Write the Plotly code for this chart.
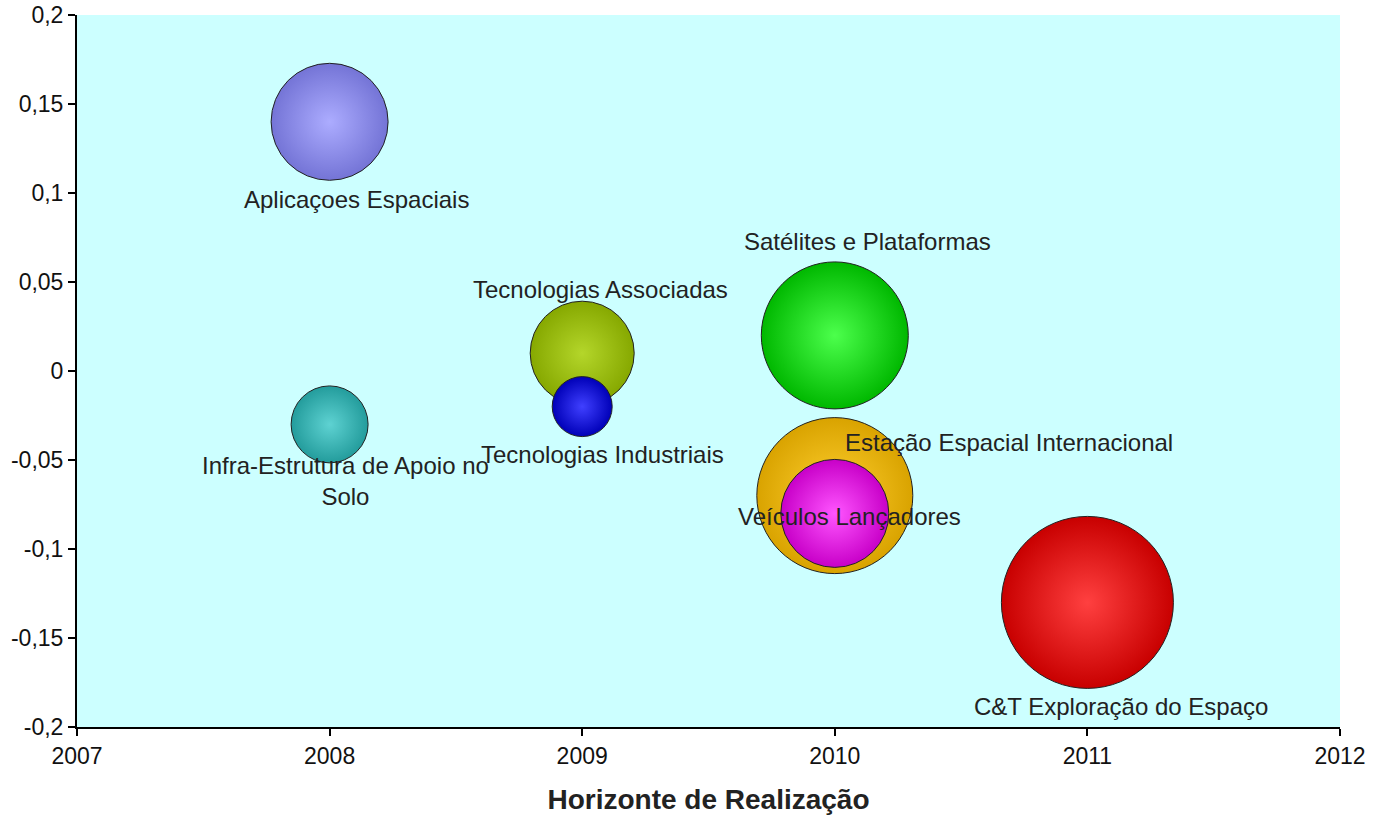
import plotly.graph_objects as go

# ---- data ----
nomes = ["Aplicaçoes Espaciais", "Infra-Estrutura de Apoio no<br>Solo", "Tecnologias Associadas",
         "Tecnologias Industriais", "Satélites e Plataformas", "Estação Espacial Internacional",
         "Veículos Lançadores", "C&T Exploração do Espaço"]
horizonte = [2008, 2008, 2009, 2009, 2010, 2010, 2010, 2011]
valor = [0.14, -0.03, 0.01, -0.02, 0.02, -0.07, -0.08, -0.13]
tamanho = [1.17, 0.77, 1.04, 0.60, 1.47, 1.56, 1.08, 1.72]

x_ticks = [2007, 2008, 2009, 2010, 2011, 2012]
y_ticks = [0.2, 0.15, 0.1, 0.05, 0, -0.05, -0.1, -0.15, -0.2]
y_ticktext = ["0,2", "0,15", "0,1", "0,05", "0", "-0,05", "-0,1", "-0,15", "-0,2"]

# ---- styles ----
cor_borda = ["#7474D6", "#239C9C", "#86A800", "#0000B8", "#00B800", "#D9A300", "#C800C8", "#C80000"]
cor_centro = ["#ACACFF", "#5ED2D2", "#B4D62A", "#4040FF", "#4CFF4C", "#FFD030", "#FF55FF", "#FF4040"]
label_dx = [27, 16, 18, 20, 33, 8, 15, 34]
label_dy = [-78, -57, 64, -48, 94, 53, -3, -104]
label_anchor = ["center", "center", "center", "center", "center", "left", "center", "center"]

fig = go.Figure()
fig.add_trace(go.Scatter(
    x=horizonte, y=valor, mode="markers",
    marker=dict(size=tamanho, sizemode="diameter", sizeref=0.01,
                color=cor_borda,
                gradient=dict(type="radial", color=cor_centro),
                line=dict(color="#222222", width=1), opacity=1),
    hovertext=nomes, showlegend=False, cliponaxis=False,
))

for i, n in enumerate(nomes):
    fig.add_annotation(x=horizonte[i], y=valor[i], text=n, showarrow=False,
                       xanchor=label_anchor[i], yanchor="middle",
                       xshift=label_dx[i], yshift=label_dy[i],
                       font=dict(family="Liberation Sans, Arial", size=24, color="#222222"))

fig.update_layout(
    width=1379, height=815,
    margin=dict(l=77, r=39, t=15, b=88),
    paper_bgcolor="white", plot_bgcolor="#CCFFFF",
    font=dict(family="Liberation Sans, Arial", size=24, color="#111111"),
)
fig.update_xaxes(range=[2007, 2012], tickvals=x_ticks, ticktext=[str(t) for t in x_ticks],
                 showgrid=False, zeroline=False, showline=True, linecolor="black", linewidth=2,
                 ticks="outside", ticklen=7, tickcolor="black", tickwidth=2,
                 tickfont=dict(size=23), automargin=False, ticklabeloverflow="allow",
                 title=dict(text="<b>Horizonte de Realização</b>", font=dict(size=28, color="#222222"),
                            standoff=22))
fig.update_yaxes(range=[-0.2, 0.2], tickvals=y_ticks, ticktext=y_ticktext,
                 showgrid=False, zeroline=False, showline=True, linecolor="black", linewidth=2,
                 ticks="outside", ticklen=7, tickcolor="black", tickwidth=2,
                 tickfont=dict(size=23), automargin=False, ticklabeloverflow="allow")

fig.write_html("out.html", config={"displayModeBar": False},
               post_script="document.body.style.margin='0';")
